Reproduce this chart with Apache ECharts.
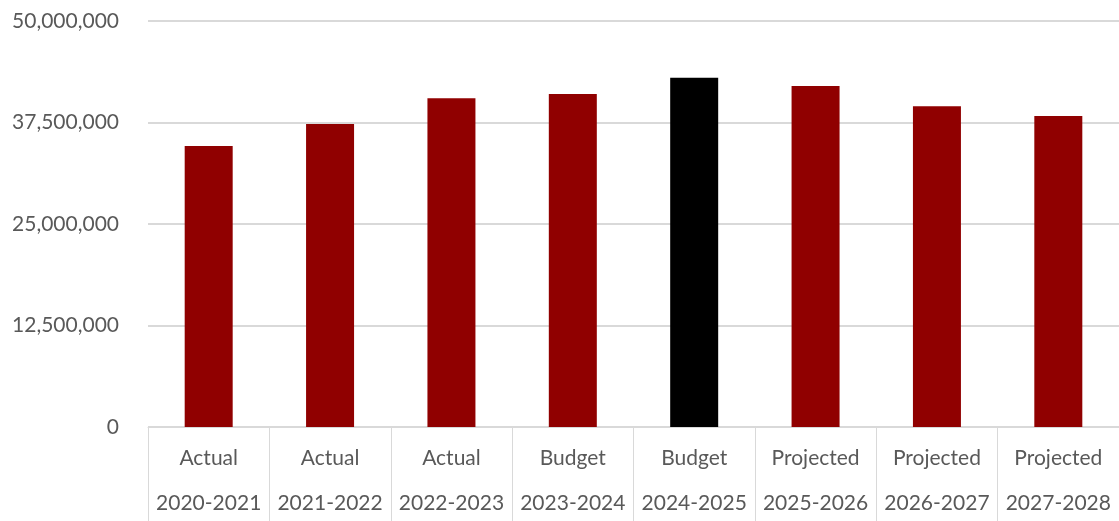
<!DOCTYPE html>
<html>
<head>
<meta charset="utf-8">
<script src="https://cdn.jsdelivr.net/npm/echarts@6/dist/echarts.min.js"></script>
<style>
  html, body { margin: 0; padding: 0; background: #fff; overflow: hidden; }
  #chart { width: 1119px; height: 521px; }
</style>
</head>
<body>
<div id="chart"></div>
<script>
// Revenue by fiscal year: actuals, budgets and projections
const stages = ['Actual', 'Actual', 'Actual', 'Budget', 'Budget', 'Projected', 'Projected', 'Projected'];
const years = ['2020-2021', '2021-2022', '2022-2023', '2023-2024', '2024-2025', '2025-2026', '2026-2027', '2027-2028'];
const values = [34600000, 37300000, 40500000, 41000000, 43000000, 42000000, 39500000, 38300000];
const highlightYear = '2024-2025';

const categories = stages.map((s, i) => s + '\n' + years[i]);
const barData = values.map((v, i) => ({
  value: v,
  itemStyle: { color: years[i] === highlightYear ? '#000000' : '#900000' }
}));

const chart = echarts.init(document.getElementById('chart'), null, { renderer: 'canvas', width: 1119, height: 521 });
chart.setOption({
  animation: false,
  textStyle: { fontFamily: 'Lato' },
  grid: {
    left: 148, width: 971, top: 21, height: 406,
    containLabel: false,
    outerBoundsMode: 'none'
  },
  xAxis: {
    type: 'category',
    data: categories,
    axisLine: { lineStyle: { color: '#d9d9d9', width: 1 } },
    axisTick: { show: true, length: 94, lineStyle: { color: '#d9d9d9', width: 1 } },
    axisLabel: {
      color: '#595959',
      fontSize: 21,
      fontFamily: 'Lato',
      lineHeight: 45,
      margin: 9,
      interval: 0
    }
  },
  yAxis: {
    type: 'value',
    min: 0,
    max: 50000000,
    interval: 12500000,
    axisLine: { show: false },
    axisTick: { show: false },
    splitLine: { lineStyle: { color: '#d9d9d9', width: 2 } },
    axisLabel: {
      color: '#595959',
      fontSize: 21,
      fontFamily: 'Lato',
      margin: 29,
      formatter: v => v.toLocaleString('en-US')
    }
  },
  series: [{
    type: 'bar',
    data: barData,
    barWidth: 48
  }]
});
</script>
</body>
</html>
